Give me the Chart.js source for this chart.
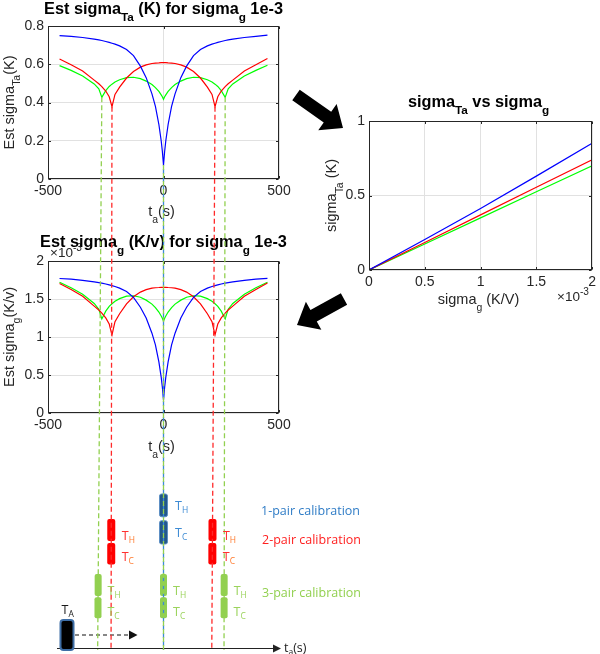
<!DOCTYPE html>
<html>
<head>
<meta charset="utf-8">
<script src="https://cdn.jsdelivr.net/npm/chart.js@4.4.1/dist/chart.umd.min.js"></script>
<style>
    html, body { margin: 0; padding: 0; background: #fff; }
    #page { position: relative; width: 600px; height: 654px; overflow: hidden; }
    canvas { position: absolute; }
    #overlay { left: 0; top: 0; pointer-events: none; }
</style>
</head>
<body>
<div id="page">
    <canvas id="chart-ta" width="300" height="230" style="left:0;top:0"></canvas>
    <canvas id="chart-g" width="300" height="230" style="left:0;top:230px"></canvas>
    <canvas id="chart-lin" width="300" height="260" style="left:300px;top:60px"></canvas>
    <canvas id="overlay" width="600" height="654"></canvas>
</div>
<script>
// time axis shared by the two left plots (s)
const timeS = [-450, -400, -350, -300, -280, -267, -250, -235, -223, -210, -190, -160, -130, -100, -75, -50, -35, -20, -10, -5, 0,
    5, 10, 20, 35, 50, 75, 100, 130, 160, 190, 210, 223, 235, 250, 267, 280, 300, 350, 400, 450];

// Est sigma_Ta (K)
const taBlue = [0.750, 0.746, 0.740, 0.731, 0.727, 0.724, 0.719, 0.714, 0.710, 0.705, 0.696, 0.677, 0.645, 0.590, 0.530, 0.445, 0.380, 0.285, 0.200, 0.145, 0.073,
    0.145, 0.200, 0.285, 0.380, 0.445, 0.530, 0.590, 0.645, 0.677, 0.696, 0.705, 0.710, 0.714, 0.719, 0.724, 0.727, 0.731, 0.740, 0.746, 0.752];
const taRed = [0.627, 0.597, 0.565, 0.517, 0.498, 0.483, 0.460, 0.430, 0.378, 0.442, 0.480, 0.528, 0.562, 0.585, 0.597, 0.604, 0.606, 0.607, 0.608, 0.608, 0.608,
    0.608, 0.608, 0.607, 0.606, 0.604, 0.597, 0.585, 0.562, 0.528, 0.480, 0.442, 0.378, 0.430, 0.460, 0.483, 0.498, 0.517, 0.565, 0.597, 0.630];
const taGreen = [0.593, 0.568, 0.539, 0.497, 0.471, 0.427, 0.462, 0.484, 0.496, 0.507, 0.519, 0.530, 0.532, 0.525, 0.512, 0.494, 0.478, 0.458, 0.440, 0.430, 0.417,
    0.430, 0.440, 0.458, 0.478, 0.494, 0.512, 0.525, 0.532, 0.530, 0.519, 0.507, 0.496, 0.484, 0.462, 0.427, 0.471, 0.497, 0.539, 0.568, 0.595];

// Est sigma_g (x1e-3 K/V)
const gBlue = [1.770, 1.761, 1.746, 1.725, 1.716, 1.709, 1.697, 1.685, 1.676, 1.664, 1.643, 1.598, 1.522, 1.392, 1.251, 1.050, 0.897, 0.673, 0.472, 0.342, 0.172,
    0.342, 0.472, 0.673, 0.897, 1.050, 1.251, 1.392, 1.522, 1.598, 1.643, 1.664, 1.676, 1.685, 1.697, 1.709, 1.716, 1.725, 1.746, 1.761, 1.772];
const gRed = [1.705, 1.624, 1.537, 1.406, 1.355, 1.314, 1.251, 1.170, 1.028, 1.202, 1.306, 1.436, 1.529, 1.591, 1.624, 1.643, 1.648, 1.651, 1.654, 1.654, 1.654,
    1.654, 1.654, 1.651, 1.648, 1.643, 1.624, 1.591, 1.529, 1.436, 1.306, 1.202, 1.028, 1.170, 1.251, 1.314, 1.355, 1.406, 1.537, 1.624, 1.710];
const gGreen = [1.720, 1.647, 1.563, 1.441, 1.366, 1.238, 1.340, 1.404, 1.438, 1.470, 1.505, 1.537, 1.543, 1.523, 1.485, 1.433, 1.386, 1.328, 1.276, 1.247, 1.209,
    1.247, 1.276, 1.328, 1.386, 1.433, 1.485, 1.523, 1.543, 1.537, 1.505, 1.470, 1.438, 1.404, 1.340, 1.238, 1.366, 1.441, 1.563, 1.647, 1.720];

// sigma_Ta vs sigma_g (x1e-3 K/V)
const sigmaG = [0, 0.5, 1, 1.5, 2];
const linBlue = [0, 0.205, 0.413, 0.63, 0.85];
const linRed = [0, 0.185, 0.37, 0.555, 0.74];
const linGreen = [0, 0.175, 0.35, 0.525, 0.70];

// calibration instants in the sketch (s) and how far the drawn guide drifts at the bottom
const onePairT = [0];
const twoPairT = [-223, 223];
const twoPairDrift = [-4, -14];
const threePairT = [-267, 0, 267];
const threePairDrift = [-18, 0, -5];

const INK = '#262626';
const GRID = '#e1e1e1';
const FONT = '"Liberation Sans", Arial, sans-serif';
const DIAG_FONT = '"Open Sans", sans-serif';
const C_RED = '#ff2a2a';
const C_GREEN = '#92d050';
const C_BLUE = '#3d8bd4';

function parseTex(s) {
    const parts = [];
    const re = /([_^])\{([^}]*)\}/g;
    let last = 0, m;
    while ((m = re.exec(s))) {
        if (m.index > last) parts.push({t: s.slice(last, m.index), k: 0});
        parts.push({t: m[2], k: m[1] === '_' ? 1 : -1});
        last = re.lastIndex;
    }
    if (last < s.length) parts.push({t: s.slice(last), k: 0});
    return parts;
}

// text with _{sub} and ^{sup}; rotate turns it to read bottom-up
function drawTex(ctx, s, x, y, o) {
    const fam = o.family || FONT;
    const wt = o.bold ? 'bold ' : '';
    const parts = parseTex(s);
    let total = 0;
    parts.forEach(p => {
        p.fs = p.k ? o.size * (o.subScale || 0.72) : o.size;
        ctx.font = wt + p.fs + 'px ' + fam;
        p.w = ctx.measureText(p.t).width;
        total += p.w;
    });
    ctx.save();
    ctx.translate(x, y);
    if (o.rotate) ctx.rotate(-Math.PI / 2);
    ctx.textAlign = 'left';
    ctx.textBaseline = 'alphabetic';
    let cx = o.align === 'left' ? 0 : -total / 2;
    parts.forEach(p => {
        ctx.font = wt + p.fs + 'px ' + fam;
        ctx.fillStyle = (p.k && o.subColor) ? o.subColor : o.color;
        const dy = p.k === 1 ? o.size * (o.subDrop !== undefined ? o.subDrop : 0.45) : (p.k === -1 ? -o.size * 0.42 : 0);
        ctx.fillText(p.t, cx, dy);
        cx += p.w;
    });
    ctx.restore();
}

// matlab style box with inward ticks
const frame = {
    id: 'frame',
    afterDatasetsDraw(chart) {
        const {ctx, chartArea: a, scales} = chart;
        const L = Math.round(a.left) + 0.5, R = Math.round(a.right) - 0.5;
        const T = Math.round(a.top) + 0.5, B = Math.round(a.bottom) - 0.5;
        ctx.save();
        ctx.strokeStyle = INK;
        ctx.lineWidth = 1;
        ctx.beginPath();
        scales.x.ticks.forEach(t => {
            const px = Math.round(scales.x.getPixelForValue(t.value)) + 0.5;
            ctx.moveTo(px, B); ctx.lineTo(px, B - 2.5);
            ctx.moveTo(px, T); ctx.lineTo(px, T + 2.5);
        });
        scales.y.ticks.forEach(t => {
            const py = Math.round(scales.y.getPixelForValue(t.value)) + 0.5;
            ctx.moveTo(L, py); ctx.lineTo(L + 2.5, py);
            ctx.moveTo(R, py); ctx.lineTo(R - 2.5, py);
        });
        ctx.stroke();
        ctx.strokeRect(L, T, R - L, B - T);
        ctx.restore();
    }
};

function decor(cfg) {
    return {
        id: 'decor',
        afterDraw(chart) {
            const {ctx, chartArea: a} = chart;
            const cx = (a.left + a.right) / 2;
            const cy = (a.top + a.bottom) / 2;
            if (cfg.exponent) {
                drawTex(ctx, '\u00d710^{-3}', cfg.exponent[0], cfg.exponent[1], {size: 13.5, color: INK, align: 'left', subScale: 0.75});
            }
            drawTex(ctx, cfg.title, cx + (cfg.titleDx || 0), cfg.titleY, {size: 16.3, bold: true, color: '#000', subDrop: 0.46});
            drawTex(ctx, cfg.xLabel, cx + (cfg.xLabelDx || 0), cfg.xLabelY, {size: 14.5, color: INK});
            drawTex(ctx, cfg.yLabel, cfg.yLabelX, cy, {size: 14.5, color: INK, rotate: true});
        }
    };
}

function pts(xs, ys) {
    return xs.map((x, i) => ({x: x, y: ys[i]}));
}

function series(label, xs, ys, color) {
    return {label: label, data: pts(xs, ys), borderColor: color, borderWidth: 1.2, pointRadius: 0, tension: 0, fill: false};
}

// matlab prints 1 and 2, not 1.0 and 2.0
const tickText = v => String(Number(v.toFixed(3)));

function axisChart(id, cfg) {
    const tickFont = {family: FONT, size: 14};
    return new Chart(document.getElementById(id), {
        type: 'line',
        data: {datasets: cfg.datasets},
        options: {
            responsive: false,
            animation: false,
            events: [],
            layout: {padding: {left: 0, top: cfg.area.top, right: cfg.area.right, bottom: 0}},
            scales: {
                x: {
                    type: 'linear', min: cfg.x[0], max: cfg.x[1],
                    ticks: {stepSize: cfg.x[2], color: INK, font: tickFont, padding: 4, maxRotation: 0, autoSkip: false, callback: tickText},
                    grid: {color: GRID, drawTicks: false},
                    border: {display: false},
                    afterFit: s => { s.height = cfg.area.xh; }
                },
                y: {
                    type: 'linear', min: cfg.y[0], max: cfg.y[1],
                    ticks: {stepSize: cfg.y[2], color: INK, font: tickFont, padding: 4, autoSkip: false, callback: tickText},
                    grid: {color: GRID, drawTicks: false},
                    border: {display: false},
                    afterFit: s => { s.width = cfg.area.yw; }
                }
            },
            plugins: {legend: {display: false}, tooltip: {enabled: false}}
        },
        plugins: [frame, decor(cfg)]
    });
}

const chartTa = axisChart('chart-ta', {
    datasets: [
        series('1-pair', timeS, taBlue, '#0000ff'),
        series('2-pair', timeS, taRed, '#ff0000'),
        series('3-pair', timeS, taGreen, '#00ff00')
    ],
    x: [-500, 500, 500], y: [0, 0.8, 0.2],
    area: {top: 26, right: 21, xh: 51, yw: 48},
    title: 'Est sigma_{Ta} (K) for sigma_{g} 1e-3', titleY: 13.5,
    xLabel: 't_{a}(s)', xLabelY: 216, xLabelDx: -2,
    yLabel: 'Est sigma_{Ta}(K)', yLabelX: 13.5
});

axisChart('chart-g', {
    datasets: [
        series('1-pair', timeS, gBlue, '#0000ff'),
        series('2-pair', timeS, gRed, '#ff0000'),
        series('3-pair', timeS, gGreen, '#00ff00')
    ],
    x: [-500, 500, 500], y: [0, 2, 0.5],
    area: {top: 31, right: 21, xh: 47, yw: 48},
    exponent: [50, 26.5],
    title: 'Est sigma_{g} (K/v) for sigma_{g} 1e-3', titleY: 16.5,
    xLabel: 't_{a}(s)', xLabelY: 221, xLabelDx: -2,
    yLabel: 'Est sigma_{g}(K/v)', yLabelX: 13.5
});

axisChart('chart-lin', {
    datasets: [
        series('1-pair', sigmaG, linBlue, '#0000ff'),
        series('2-pair', sigmaG, linRed, '#ff0000'),
        series('3-pair', sigmaG, linGreen, '#00ff00')
    ],
    x: [0, 2, 0.5], y: [0, 1, 0.5],
    area: {top: 61, right: 3, xh: 50, yw: 69},
    exponent: [257, 240.5],
    title: 'sigma_{Ta} vs sigma_{g}', titleY: 46.5, titleDx: -2,
    xLabel: 'sigma_{g} (K/V)', xLabelY: 244, xLabelDx: -2,
    yLabel: 'sigma_{Ta} (K)', yLabelX: 36
});

// ---- sketch overlay: guides dropped from the minima down to the time axis ----
const GUIDE_BOTTOM = 650;
const idx = t => timeS.indexOf(t);
const yTa = chartTa.scales.y;
const guides = [
    {t: threePairT[0], drift: threePairDrift[0], top: yTa.getPixelForValue(taGreen[idx(threePairT[0])]), color: C_GREEN, off: 0},
    {t: twoPairT[0], drift: twoPairDrift[0], top: yTa.getPixelForValue(taRed[idx(twoPairT[0])]), color: C_RED, off: 0},
    {t: threePairT[1], drift: threePairDrift[1], top: yTa.getPixelForValue(taBlue[idx(threePairT[1])]), color: C_GREEN, off: 0},
    {t: onePairT[0], drift: 0, top: yTa.getPixelForValue(taBlue[idx(onePairT[0])]), color: C_BLUE, off: 4},
    {t: twoPairT[1], drift: twoPairDrift[1], top: yTa.getPixelForValue(taRed[idx(twoPairT[1])]), color: C_RED, off: 0},
    {t: threePairT[2], drift: threePairDrift[2], top: yTa.getPixelForValue(taGreen[idx(threePairT[2])]), color: C_GREEN, off: 0}
];

const guideSets = guides.map(g => ({
    data: [{x: g.t, y: g.top}, {x: g.t + g.drift, y: GUIDE_BOTTOM}],
    showLine: true, borderColor: g.color, borderWidth: 1.3, borderDash: [5, 3], borderDashOffset: g.off,
    pointRadius: 0, tension: 0, clip: false
}));

function guideX(chart, g, y) {
    const f = (y - g.top) / (GUIDE_BOTTOM - g.top);
    return chart.scales.x.getPixelForValue(g.t + g.drift * f);
}

function fatArrow(ctx, x1, y1, x2, y2, shaft, headW, headL) {
    const len = Math.hypot(x2 - x1, y2 - y1);
    const ux = (x2 - x1) / len, uy = (y2 - y1) / len;
    const px = -uy, py = ux;
    const bx = x2 - ux * headL, by = y2 - uy * headL;
    ctx.beginPath();
    ctx.moveTo(x1 + px * shaft / 2, y1 + py * shaft / 2);
    ctx.lineTo(bx + px * shaft / 2, by + py * shaft / 2);
    ctx.lineTo(bx + px * headW / 2, by + py * headW / 2);
    ctx.lineTo(x2, y2);
    ctx.lineTo(bx - px * headW / 2, by - py * headW / 2);
    ctx.lineTo(bx - px * shaft / 2, by - py * shaft / 2);
    ctx.lineTo(x1 - px * shaft / 2, y1 - py * shaft / 2);
    ctx.closePath();
    ctx.fill();
}

// box rows of the sketch: [top, bottom] of the hot and cold box, label baselines
const rowOne = {boxes: [[494, 516.7], [520.7, 544]], labels: [510, 537], w: 8, guides: [3]};
const rowTwo = {boxes: [[519, 541], [543, 564.5]], labels: [539.5, 561], w: 8, guides: [1, 4]};
const rowThree = {boxes: [[574, 596], [597.3, 618.3]], labels: [594.5, 616], w: 7, guides: [0, 2, 5]};

const diagram = {
    id: 'diagram',
    beforeDatasetsDraw(chart) {
        const ctx = chart.ctx;
        ctx.save();
        const boxRow = (row, fill, stroke) => {
            row.guides.forEach(gi => {
                row.boxes.forEach(b => {
                    const x = guideX(chart, guides[gi], (b[0] + b[1]) / 2);
                    ctx.beginPath();
                    ctx.roundRect(x - row.w / 2, b[0], row.w, b[1] - b[0], 2);
                    ctx.fillStyle = fill;
                    ctx.fill();
                    if (stroke) { ctx.strokeStyle = stroke; ctx.lineWidth = 1; ctx.stroke(); }
                });
            });
        };
        boxRow(rowOne, '#23578a', '#5d8fc4');
        boxRow(rowTwo, '#ff0000', null);
        boxRow(rowThree, C_GREEN, null);

        // time axis with arrow
        ctx.strokeStyle = '#222';
        ctx.fillStyle = '#222';
        ctx.lineWidth = 1.2;
        ctx.beginPath();
        ctx.moveTo(57, 648.5); ctx.lineTo(274, 648.5);
        ctx.stroke();
        ctx.beginPath();
        ctx.moveTo(273, 644.5); ctx.lineTo(281, 648.5); ctx.lineTo(273, 652.5);
        ctx.closePath();
        ctx.fill();

        // T_A sensor and its dashed sweep
        ctx.beginPath();
        ctx.roundRect(60.5, 620, 13, 30, 3);
        ctx.fillStyle = '#000';
        ctx.fill();
        ctx.strokeStyle = '#3e6ea6';
        ctx.lineWidth = 2;
        ctx.stroke();
        ctx.strokeStyle = '#111';
        ctx.lineWidth = 1.2;
        ctx.setLineDash([4, 3]);
        ctx.beginPath();
        ctx.moveTo(75, 635); ctx.lineTo(129, 635);
        ctx.stroke();
        ctx.setLineDash([]);
        ctx.fillStyle = '#111';
        ctx.beginPath();
        ctx.moveTo(129, 630.5); ctx.lineTo(137.5, 635); ctx.lineTo(129, 639.5);
        ctx.closePath();
        ctx.fill();
        ctx.restore();
    },
    afterDatasetsDraw(chart) {
        const ctx = chart.ctx;
        ctx.save();
        const tex = {size: 12.5, family: DIAG_FONT, align: 'left', subScale: 0.68, subDrop: 0.25};
        const labelRow = (row, off, color, subColor) => {
            row.guides.forEach(gi => {
                ['T_{H}', 'T_{C}'].forEach((s, k) => {
                    const x = guideX(chart, guides[gi], row.labels[k]) + off;
                    drawTex(ctx, s, x, row.labels[k], Object.assign({}, tex, {color: color, subColor: subColor}));
                });
            });
        };
        labelRow(rowOne, 11.5, C_BLUE, C_BLUE);
        labelRow(rowTwo, 10.5, '#ff3030', '#ff7a2e');
        labelRow(rowThree, 9.5, '#9bd35c', '#9bd35c');

        ctx.font = '12.5px ' + DIAG_FONT;
        ctx.textAlign = 'left';
        ctx.textBaseline = 'alphabetic';
        ctx.fillStyle = '#2f7cc6';
        ctx.fillText('1-pair calibration', 261, 515);
        ctx.fillStyle = '#ff1f1f';
        ctx.fillText('2-pair calibration', 262, 544);
        ctx.fillStyle = C_GREEN;
        ctx.fillText('3-pair calibration', 262, 597);

        drawTex(ctx, 'T_{A}', 61.5, 613.5, Object.assign({}, tex, {color: '#1a1a1a'}));
        drawTex(ctx, 't_{a}(s)', 284, 652, Object.assign({}, tex, {color: '#222'}));

        ctx.fillStyle = '#000';
        fatArrow(ctx, 296, 95, 343, 128, 13, 32, 19);
        fatArrow(ctx, 344, 299, 297, 325, 13, 32, 19);
        ctx.restore();
    }
};

new Chart(document.getElementById('overlay'), {
    type: 'scatter',
    data: {datasets: guideSets},
    options: {
        responsive: false,
        animation: false,
        events: [],
        layout: {padding: {left: 48, right: 321, top: 0, bottom: 0}},
        scales: {
            x: {type: 'linear', min: -500, max: 500, display: false},
            y: {type: 'linear', min: 0, max: 654, reverse: true, display: false}
        },
        plugins: {legend: {display: false}, tooltip: {enabled: false}}
    },
    plugins: [diagram]
});
</script>
</body>
</html>
